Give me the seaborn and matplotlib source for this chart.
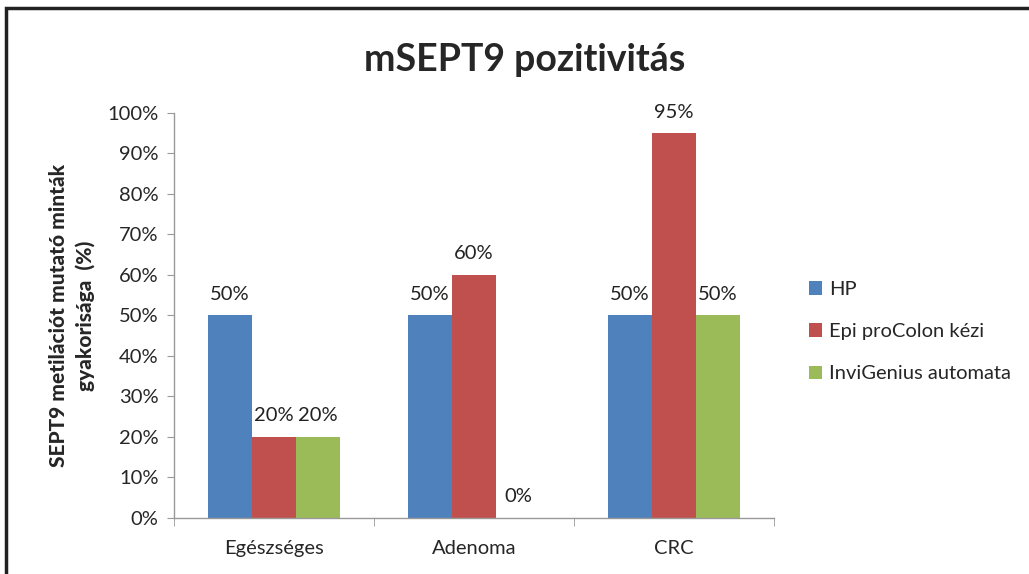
import matplotlib
matplotlib.use("Agg")
import matplotlib.pyplot as plt
import seaborn as sns
import pandas as pd
from matplotlib.patches import Rectangle
from matplotlib.ticker import PercentFormatter

# Data
categories = ["Egészséges", "Adenoma", "CRC"]
series = ["HP", "Epi proColon kézi", "InviGenius automata"]
hp_values = [50, 50, 50]
epi_values = [20, 60, 95]
invi_values = [20, 0, 50]
colors = ["#4F81BD", "#C0504D", "#9BBB59"]

df = pd.DataFrame({
    "cat": categories * 3,
    "method": [s for s in series for _ in categories],
    "value": hp_values + epi_values + invi_values,
})

sns.set_style("white")
plt.rcParams["font.family"] = ["Lato", "DejaVu Sans"]

fig = plt.figure(figsize=(10.29, 5.74), dpi=100)
ax = fig.add_axes([0.1691, 0.0976, 0.5831, 0.7056])

sns.barplot(data=df, x="cat", y="value", hue="method", palette=colors,
            width=0.66, ax=ax, saturation=1, linewidth=0, legend=True)

for cont in ax.containers:
    ax.bar_label(cont, labels=[f"{v:.0f}%" for v in cont.datavalues],
                 padding=9, fontsize=14.5, color="#222222")

ax.set_ylim(0, 100)
ax.set_xlim(-0.5, 2.5)
ax.yaxis.set_major_locator(plt.MultipleLocator(10))
ax.yaxis.set_major_formatter(PercentFormatter(decimals=0))
ax.tick_params(axis="y", labelsize=14.5, length=5, color="#999999", left=True, pad=6)
ax.tick_params(axis="x", labelsize=14.5, length=0, pad=16)
ax.set_xticks([-0.5, 0.5, 1.5, 2.5], minor=True)
ax.tick_params(axis="x", which="minor", length=6, color="#999999", bottom=True)
ax.set_xlabel("")
ax.set_ylabel("SEPT9 metilációt mutató minták\ngyakorisága  (%)",
              fontsize=15, fontweight="black", labelpad=9, linespacing=1.45)
for side in ["top", "right"]:
    ax.spines[side].set_visible(False)
for side in ["left", "bottom"]:
    ax.spines[side].set_color("#999999")
    ax.spines[side].set_linewidth(1)

ax.legend(loc="center left", bbox_to_anchor=(1.028, 0.46), frameon=False,
          fontsize=14.5, handlelength=0.65, handleheight=0.65,
          handletextpad=0.35, labelspacing=1.25)

fig.text(0.51, 0.895, "mSEPT9 pozitivitás", ha="center", va="center",
         fontsize=27, fontweight="bold")

fig.patches.append(Rectangle((6 / 1029, -0.1), 1.2, 1 - 8 / 574 + 0.1,
                             transform=fig.transFigure, fill=False,
                             edgecolor="#222222", linewidth=2.5))

fig.savefig("out.png", dpi=100)
